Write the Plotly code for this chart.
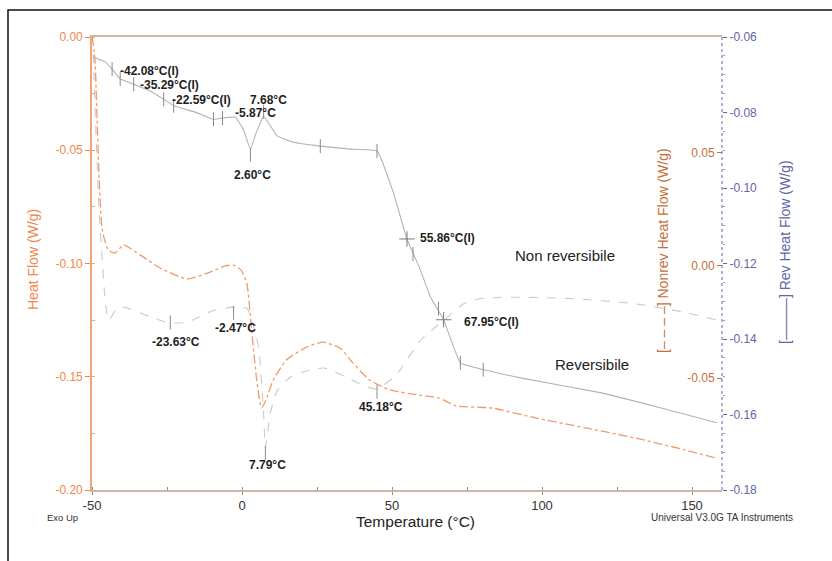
import plotly.graph_objects as go

# ---------------- data ----------------
# Total heat flow (left axis, W/g)
temp_total = [-49.9, -49.0, -48.3, -47.6, -46.6, -44.6, -42.3, -39.5, -34.0, -27.3, -18.4, -10.6,
              -5.6, -2.9, -0.3, 1.6, 3.2, 4.9, 6.5, 8.0, 10.4, 14.8, 21.5, 27.0, 32.6, 37.0,
              42.5, 49.2, 59.1, 65.8, 71.3, 83.4, 97.9, 114.5, 131.0, 147.7, 158.0]
hf_total = [0.0, -0.0102, -0.0366, -0.0631, -0.0852, -0.094, -0.0954, -0.0918, -0.0962, -0.102,
            -0.1068, -0.1038, -0.1011, -0.1007, -0.1029, -0.1086, -0.1294, -0.1514, -0.1638,
            -0.1603, -0.1514, -0.1426, -0.1369, -0.1347, -0.1373, -0.1439, -0.1514, -0.1558,
            -0.1581, -0.1594, -0.1629, -0.1638, -0.1682, -0.1726, -0.177, -0.1823, -0.1859]

# Non-reversing heat flow (right inner axis, W/g)
temp_nonrev = [-49.6, -47.8, -45.6, -44.5, -42.2, -39.5, -31.7, -23.9, -18.3, -9.5, -2.8, 1.7,
               5.5, 7.2, 7.8, 9.4, 11.7, 16.1, 21.7, 27.2, 33.9, 40.5, 45.0, 51.7, 59.4, 67.2,
               73.9, 79.4, 91.7, 109.4, 130.4, 146.1, 158.8]
hf_nonrev = [0.094, 0.0289, -0.0156, -0.0244, -0.020, -0.0185, -0.0222, -0.0256, -0.0252, -0.020,
             -0.0185, -0.0191, -0.0363, -0.0658, -0.0809, -0.0658, -0.0556, -0.0496, -0.0467,
             -0.0455, -0.0489, -0.0533, -0.0548, -0.0481, -0.0333, -0.0244, -0.017, -0.0147,
             -0.0141, -0.0147, -0.0169, -0.0204, -0.0244]

# Reversing heat flow (right outer axis, W/g)
temp_rev = [-49.6, -45.6, -43.3, -40.6, -36.1, -30.6, -26.1, -22.8, -15.6, -9.5, -5.0, -2.2, 0.4,
            2.8, 4.8, 7.2, 11.7, 17.1, 26.1, 36.1, 45.0, 50.4, 55.0, 59.4, 62.8, 67.2, 72.8, 80.4,
            92.8, 119.4, 139.4, 158.3]
hf_rev = [-0.0653, -0.0666, -0.0685, -0.0711, -0.0725, -0.0743, -0.0765, -0.0782, -0.0799, -0.0818,
          -0.0813, -0.0812, -0.0844, -0.0897, -0.0852, -0.081, -0.0862, -0.0879, -0.0889, -0.0897,
          -0.0902, -0.1011, -0.1135, -0.1216, -0.1288, -0.1349, -0.1463, -0.1481, -0.1503,
          -0.1542, -0.1582, -0.1622]

# analysis markers
rev_tick_t = [-43.3, -40.6, -36.1, -26.1, -22.8, -9.5, -6.5, 2.8, 7.2, 26.1, 45.0, 57.0, 65.5, 72.8, 80.4]
rev_tick_v = [-0.0685, -0.0711, -0.0725, -0.0765, -0.0782, -0.0818, -0.0815, -0.0912, -0.0798,
              -0.0889, -0.0902, -0.1175, -0.1320, -0.1463, -0.1481]
rev_cross_t = [55.0, 67.2]
rev_cross_v = [-0.1135, -0.1349]
nonrev_tick_t = [-23.9, -2.8, 7.8, 45.0]
nonrev_tick_v = [-0.0253, -0.0210, -0.0831, -0.0560]

x_tickvals = [-50, 0, 50, 100, 150]
x_ticktext = ["-50", "0", "50", "100", "150"]
left_tickvals = [0.0, -0.05, -0.10, -0.15, -0.20]
left_ticktext = ["0.00", "-0.05", "-0.10", "-0.15", "-0.20"]
nonrev_tickvals = [0.05, 0.0, -0.05]
nonrev_ticktext = ["0.05", "0.00", "-0.05"]
rev_tickvals = [-0.06, -0.08, -0.10, -0.12, -0.14, -0.16, -0.18]
rev_ticktext = ["-0.06", "-0.08", "-0.10", "-0.12", "-0.14", "-0.16", "-0.18"]

point_labels = ["-42.08°C(I)", "-35.29°C(I)", "-22.59°C(I)", "7.68°C", "-5.87°C", "2.60°C",
                "55.86°C(I)", "-23.63°C", "-2.47°C", "45.18°C", "7.79°C", "67.95°C(I)"]

# ---------------- figure ----------------
FONT = "Liberation Sans, Arial, sans-serif"
ORANGE = "#f0874a"
BROWN = "#c4703a"
BLUE = "#6464a8"

fig = go.Figure()
fig.add_trace(go.Scatter(x=temp_total, y=hf_total, mode="lines", yaxis="y",
                         line=dict(color="#f29a66", width=1.3, dash="dashdot", shape="spline", smoothing=0.5),
                         hoverinfo="skip"))
fig.add_trace(go.Scatter(x=temp_nonrev, y=hf_nonrev, mode="lines", yaxis="y2",
                         line=dict(color="#cacaca", width=1.1, dash="dash", shape="spline", smoothing=0.5),
                         hoverinfo="skip"))
fig.add_trace(go.Scatter(x=temp_rev, y=hf_rev, mode="lines", yaxis="y3",
                         line=dict(color="#b2b2b2", width=1.1, shape="spline", smoothing=0.3),
                         hoverinfo="skip"))
fig.add_trace(go.Scatter(x=rev_tick_t, y=rev_tick_v, mode="markers", yaxis="y3",
                         marker=dict(symbol="line-ns", size=10, line=dict(color="#8a8a8a", width=1)),
                         hoverinfo="skip"))
fig.add_trace(go.Scatter(x=rev_cross_t, y=rev_cross_v, mode="markers", yaxis="y3",
                         marker=dict(symbol="cross-thin", size=11, line=dict(color="#777777", width=1)),
                         hoverinfo="skip"))
fig.add_trace(go.Scatter(x=nonrev_tick_t, y=nonrev_tick_v, mode="markers", yaxis="y2",
                         marker=dict(symbol="line-ns", size=10, line=dict(color="#8a8a8a", width=1)),
                         hoverinfo="skip"))

# label positions (data coords on left axis)
label_pos = [(-41.2, -0.0148), (-34.6, -0.0210), (-23.9, -0.0278), (2.1, -0.0278), (-2.9, -0.0336),
             (-3.2, -0.0609), (58.8, -0.0887), (-30.6, -0.1347), (-9.6, -0.1285), (38.4, -0.1634),
             (1.8, -0.189), (73.4, -0.1258)]
annotations = []
for txt, (ax, ay) in zip(point_labels, label_pos):
    annotations.append(dict(x=ax, y=ay, xref="x", yref="y", text="<b>" + txt + "</b>",
                            showarrow=False, xanchor="left", yanchor="middle",
                            font=dict(family=FONT, size=12, color="#1e1e1e")))

def px2paper(px, py):
    return (px - 92) / 630.0, (490 - py) / 453.0

def paper_ann(px, py, text, size, color, angle=0):
    xp, yp = px2paper(px, py)
    return dict(x=xp, y=yp, xref="paper", yref="paper", text=text, showarrow=False,
                xanchor="center", yanchor="middle", textangle=angle,
                font=dict(family=FONT, size=size, color=color))

annotations += [
    paper_ann(33, 260, "Heat Flow (W/g)", 14, ORANGE, -90),
    paper_ann(663, 251, "[– – – –] Nonrev Heat Flow (W/g)", 14, BROWN, -90),
    paper_ann(785, 252, "[———] Rev Heat Flow (W/g)", 14, BLUE, -90),
    paper_ann(416, 521, "Temperature (°C)", 15.5, "#222222"),
    paper_ann(62, 517, "Exo Up", 9.5, "#333333"),
    paper_ann(722, 517, "Universal V3.0G TA Instruments", 10, "#333333"),
    paper_ann(565, 255, "Non reversibile", 15, "#222222"),
    paper_ann(592, 364, "Reversibile", 15, "#222222"),
]

x0p, y0p = px2paper(8, 10)
x1p, y1p = px2paper(950, 620)
shapes = [
    dict(type="rect", xref="paper", yref="paper", x0=x0p, y0=y1p, x1=x1p, y1=y0p,
         line=dict(color="#111111", width=1.5), fillcolor="rgba(0,0,0,0)", layer="below"),
    dict(type="line", xref="paper", yref="paper", x0=1, x1=1, y0=0, y1=1,
         line=dict(color="#7a7ac0", width=1.2, dash="dot")),
]

fig.update_layout(
    width=832, height=561,
    margin=dict(l=92, r=110, t=37, b=71),
    paper_bgcolor="white", plot_bgcolor="white",
    showlegend=False,
    font=dict(family=FONT),
    xaxis=dict(range=[-50, 160], tickvals=x_tickvals, ticktext=x_ticktext,
               showgrid=False, zeroline=False, showline=True, mirror=True,
               linecolor="#cbb8aa", linewidth=1.6, ticks="outside", ticklen=3, tickcolor="#9a8a80",
               minor=dict(dtick=25, tick0=-50, ticks="inside", ticklen=3, tickcolor="#9a8a80"),
               tickfont=dict(family=FONT, size=13, color="#333333")),
    yaxis=dict(range=[-0.2, 0.0], tickvals=left_tickvals, ticktext=left_ticktext,
               showgrid=False, zeroline=False, showline=True, linecolor="#f3a474", linewidth=1.6,
               ticks="outside", ticklen=5, tickcolor=ORANGE,
               minor=dict(dtick=0.025, ticks="inside", ticklen=3, tickcolor="#f3a474"),
               tickfont=dict(family=FONT, size=12, color=ORANGE)),
    yaxis2=dict(range=[-0.0996, 0.1013], overlaying="y", side="left", anchor="free", position=1.0,
                tickvals=nonrev_tickvals, ticktext=nonrev_ticktext,
                ticks="outside", ticklen=5, tickcolor=BROWN,
                showgrid=False, zeroline=False, showline=False,
                tickfont=dict(family=FONT, size=12, color=BROWN)),
    yaxis3=dict(range=[-0.18, -0.06], overlaying="y", side="right", anchor="x",
                tickvals=rev_tickvals, ticktext=rev_ticktext,
                ticks="outside", ticklen=4, tickcolor=BLUE,
                minor=dict(dtick=0.005, ticks="outside", ticklen=2, tickcolor="#9a9ad0"),
                showgrid=False, zeroline=False, showline=False,
                tickfont=dict(family=FONT, size=12, color=BLUE)),
    annotations=annotations,
    shapes=shapes,
)

fig.write_html("out.html", config={"displayModeBar": False})
